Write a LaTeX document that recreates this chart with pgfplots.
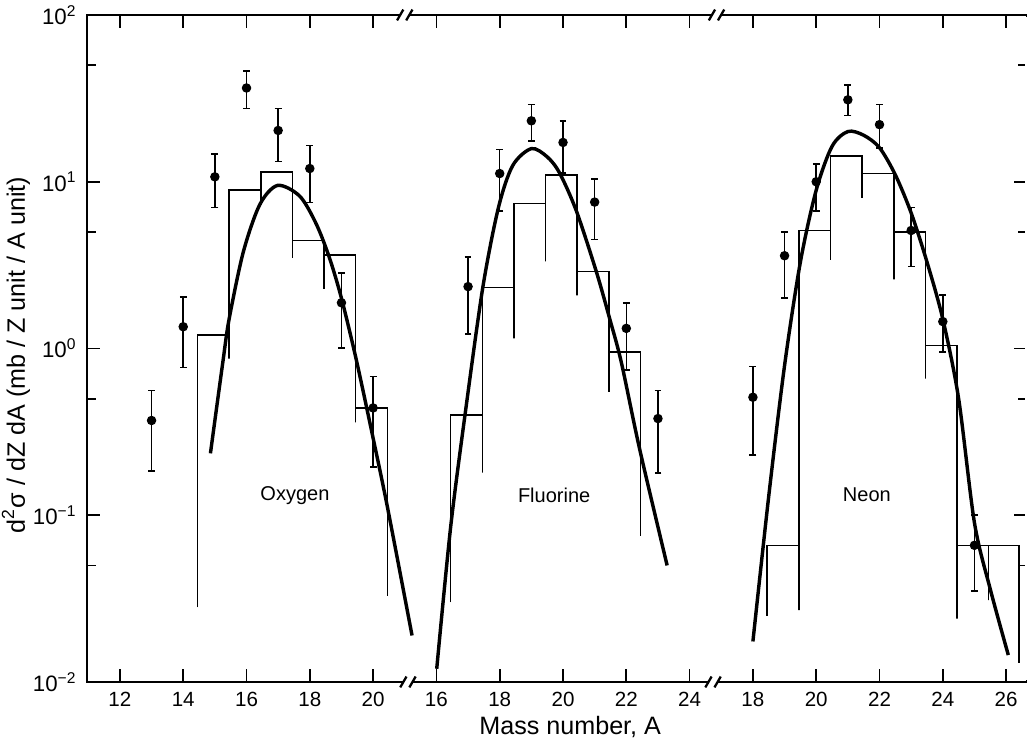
\documentclass[border=0pt]{standalone}
\usepackage{fontspec}
\setmainfont{Liberation Sans}
\usepackage{pgfplots}
\pgfplotsset{compat=1.18}
\usepackage{pgfplotstable}
\usetikzlibrary{calc}

% ---------- data points (A, value, upper, lower) ----------
\pgfplotstableread{
A y hi lo
13 0.37 0.56 0.185
14 1.35 2.04 0.77
15 10.7 14.6 7.0
16 36.5 46 27.5
17 20.3 27.5 13.2
18 12.0 16.5 7.5
19 1.88 2.83 1.01
20 0.44 0.68 0.195
}\oxpts
\pgfplotstableread{
A y hi lo
17 2.35 3.53 1.22
18 11.2 15.6 6.7
19 23.2 29 17.6
20 17.2 23.2 11.3
21 7.55 10.4 4.5
22 1.32 1.88 0.74
23 0.38 0.56 0.18
}\flpts
\pgfplotstableread{
A y hi lo
18 0.51 0.78 0.23
19 3.6 5.0 2.0
20 10 12.8 6.7
21 31 38 25
22 22 29 16
23 5.1 7.0 3.1
24 1.45 2.1 0.95
25 0.066 0.10 0.035
}\nepts
% ---------- histograms ----------
\pgfplotstableread{
A y
14.45 0.028
14.45 1.2
15.45 1.2
15.45 0.87
15.45 8.9
16.45 8.9
16.45 7.3
16.45 11.4
17.45 11.4
17.45 3.5
17.45 4.43
18.45 4.43
18.45 2.28
18.45 3.65
19.45 3.65
19.45 0.36
19.45 0.44
20.45 0.44
20.45 0.033
}\oxhist
\pgfplotstableread{
A y
16.45 0.030
16.45 0.40
17.45 0.40
17.45 0.18
17.45 2.32
18.45 2.32
18.45 1.15
18.45 7.4
19.45 7.4
19.45 3.33
19.45 11.0
20.45 11.0
20.45 2.08
20.45 2.9
21.45 2.9
21.45 0.55
21.45 0.955
22.45 0.955
22.45 0.075
}\flhist
\pgfplotstableread{
A y
18.45 0.025
18.45 0.066
19.45 0.066
19.45 0.027
19.45 5.1
20.45 5.1
20.45 3.4
20.45 14.3
21.45 14.3
21.45 8.0
21.45 11.2
22.45 11.2
22.45 2.6
22.45 5.0
23.45 5.0
23.45 0.66
23.45 1.04
24.45 1.04
24.45 0.024
24.45 0.066
25.45 0.066
25.45 0.031
25.45 0.066
26.40 0.066
26.40 0.013
}\nehist
% ---------- fitted curves ----------
\pgfplotstableread{
A y
14.86 0.235
15.26 0.85
15.45 1.5
15.90 3.8
16.42 7.3
16.98 9.5
17.68 8.2
18.20 5.6
18.62 3.5
19.00 2.0
19.46 0.87
20.00 0.29
20.46 0.11
21.23 0.019
}\oxfit
\pgfplotstableread{
A y
16.01 0.012
16.45 0.085
16.94 0.45
17.47 2.35
17.96 7.0
18.41 12.5
19.00 15.8
19.50 14.1
19.89 11.3
20.42 6.7
21.05 2.9
21.47 1.52
21.84 0.83
22.42 0.25
23.29 0.050
}\flfit
\pgfplotstableread{
A y
18.00 0.0175
18.50 0.13
19.00 0.79
19.50 3.3
20.00 8.9
20.50 16.3
21.00 20
21.50 19
22.00 16
22.50 11
23.00 6.5
23.50 3.3
24.00 1.5
24.50 0.50
25.00 0.09
25.50 0.036
26.07 0.0145
}\nefit

\newcommand{\brk}[1]{%
  \fill[white] ($(#1)+(-1.7pt,-1.2pt)$) rectangle ($(#1)+(1.7pt,1.2pt)$);
  \draw[line width=0.8pt] ($(#1)+(-2.7pt,-1.9pt)$) -- ($(#1)+(-0.5pt,1.9pt)$);
  \draw[line width=0.8pt] ($(#1)+(0.5pt,-1.9pt)$) -- ($(#1)+(2.7pt,1.9pt)$);}

\begin{document}
\begin{tikzpicture}
\begin{axis}[
  scale only axis, width=329pt, height=233.45pt,
  ymode=log, ymin=0.01, ymax=100,
  xmin=10.96, xmax=40.66,
  clip=false,
  axis line style={line width=0.9pt},
  every tick/.style={black, line width=0.6pt},
  major tick length=4.5pt, minor tick length=3.2pt,
  tick align=inside, xtick pos=both, ytick pos=both,
  xtick={12,14,16,18,20,22,24,26,28,30,32,34,36,38,40},
  xticklabels={12,14,16,18,20,16,18,20,22,24,18,20,22,24,26},
  minor xtick={},
  ytick={0.01,0.1,1,10,100},
  yticklabels={10\textsuperscript{−2},10\textsuperscript{−1},10\textsuperscript{0},10\textsuperscript{1},10\textsuperscript{2}},
  minor ytick={0.05,0.5,5,50},
  ticklabel style={font=\fontsize{7.2}{8}\selectfont},
  yticklabel style={font=\fontsize{7.8}{9}\selectfont},
  /pgf/number format/assume math mode=true,
  xlabel={Mass number, A},
  xlabel style={font=\fontsize{8.8}{10}\selectfont, at={(axis description cs:0.514,0)}, anchor=base, yshift=-18.5pt},
  ylabel={d\textsuperscript{2}σ / dZ dA (mb / Z unit / A unit)},
  ylabel style={font=\fontsize{8.8}{10}\selectfont, at={(axis description cs:-0.066,0.49)}, anchor=base, rotate=0},
]
% histograms
\addplot[black, line width=0.55pt, sharp plot] table[x=A, y=y] {\oxhist};
\addplot[black, line width=0.55pt, sharp plot] table[x expr=\thisrow{A}+6, y=y] {\flhist};
\addplot[black, line width=0.55pt, sharp plot] table[x expr=\thisrow{A}+14, y=y] {\nehist};
% curves
\addplot[black, line width=1.2pt, smooth, tension=0.5] table[x=A, y=y] {\oxfit};
\addplot[black, line width=1.2pt, smooth, tension=0.5] table[x expr=\thisrow{A}+6, y=y] {\flfit};
\addplot[black, line width=1.2pt, smooth, tension=0.5] table[x expr=\thisrow{A}+14, y=y] {\nefit};
% data points
\pgfplotsset{pts/.style={only marks, mark=*, mark size=1.45pt, black,
  error bars/.cd, y dir=both, y explicit,
  error bar style={line width=0.55pt, black},
  error mark options={black, line width=0.6pt, mark size=1.2pt, rotate=90}}}
\addplot[pts] table[x=A, y=y, y error plus expr=\thisrow{hi}-\thisrow{y}, y error minus expr=\thisrow{y}-\thisrow{lo}] {\oxpts};
\addplot[pts] table[x expr=\thisrow{A}+6, y=y, y error plus expr=\thisrow{hi}-\thisrow{y}, y error minus expr=\thisrow{y}-\thisrow{lo}] {\flpts};
\addplot[pts] table[x expr=\thisrow{A}+14, y=y, y error plus expr=\thisrow{hi}-\thisrow{y}, y error minus expr=\thisrow{y}-\thisrow{lo}] {\nepts};
% labels
\node[font=\fontsize{7}{8}\selectfont] at (axis cs:17.53,0.132) {Oxygen};
\node[font=\fontsize{7}{8}\selectfont] at (axis cs:25.72,0.132) {Fluorine};
\node[font=\fontsize{7}{8}\selectfont] at (axis cs:35.6,0.132) {Neon};
\coordinate (sw) at (rel axis cs:0,0);
\coordinate (ne) at (rel axis cs:1,1);
\coordinate (b1) at (axis cs:21.1,0.01);
\coordinate (b2) at (axis cs:30.74,0.01);
\coordinate (t1) at (axis cs:21.0,100);
\coordinate (t2) at (axis cs:30.85,100);
\end{axis}
\draw[white, line width=1.2pt] ($(ne)+(0,-0.6pt)$) -- ($(sw -| ne)+(0,0.6pt)$);
\brk{b1}\brk{b2}\brk{t1}\brk{t2}
\pgfresetboundingbox
\path[use as bounding box] ($(sw)+(-30.45pt,-21.35pt)$) rectangle ($(ne)+(0,5.25pt)$);
\end{tikzpicture}
\end{document}
